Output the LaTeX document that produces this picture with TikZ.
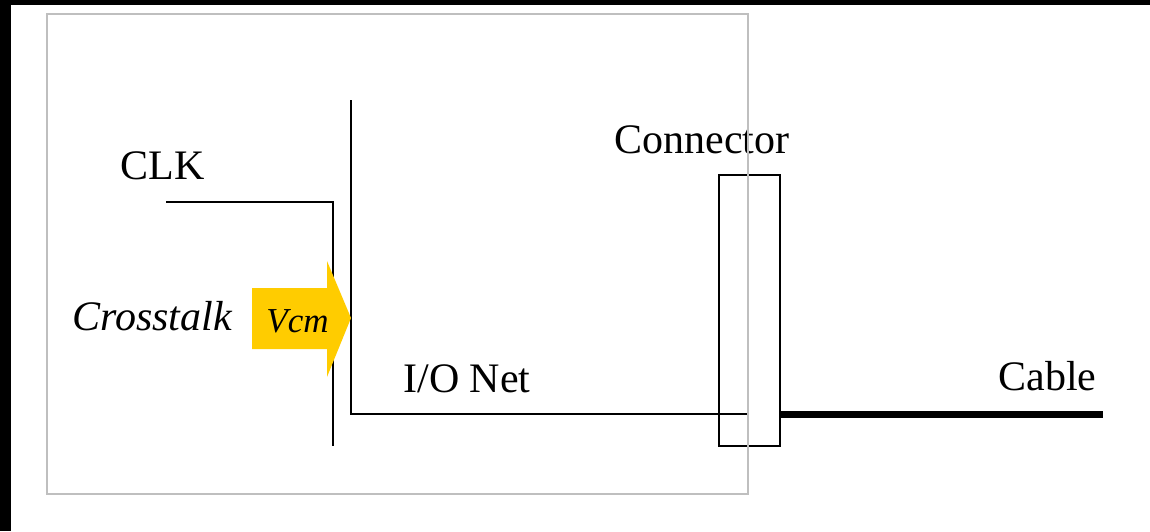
\documentclass[tikz,border=0pt]{standalone}
\usepackage{fontspec}
\setmainfont{Liberation Serif}
\usetikzlibrary{positioning,calc}
\definecolor{frameGray}{HTML}{BFBFBF}
\definecolor{xtalkYellow}{HTML}{FFCC00}

\begin{document}
\begin{tikzpicture}[
    x=0.5pt, y=-0.5pt,
    lbl/.style={anchor=base west, inner sep=0pt, font=\fontsize{21}{24}\selectfont},
    wire/.style={line width=1pt},
    cable/.style={line width=3.5pt},
    conn/.style={draw, line width=0.8pt, minimum width=30.5pt, minimum height=135.5pt, inner sep=0pt}
]
\useasboundingbox (0,0) rectangle (1150,531);
% page edges
\fill[black] (0,0) rectangle (11,531);
\fill[black] (0,0) rectangle (1150,5);

% wires
\coordinate (clkstart) at (166,202);
\coordinate (clkcorner) at (333,202);
\coordinate (clkend) at (333,446);
\coordinate (iotop) at (351,100);
\coordinate (iocorner) at (351,414);
\coordinate (ioend) at (748,414);
\coordinate (cableend) at (1103,414);
\draw[wire] (clkstart) -- (clkcorner) -- (clkend);
\draw[wire] (iotop) -- (iocorner) -- (ioend);

% crosstalk arrow
\fill[xtalkYellow] (252,288) -- (327,288) -- (327,261) -- (351,318)
    -- (327,377) -- (327,349) -- (252,349) -- cycle;
\node[anchor=base west, inner sep=0pt, font=\fontsize{17.5}{20}\selectfont\itshape] (vcm) at (266,332) {Vcm};

% connector and cable
\node[conn] (connector) at (749.5,310.5) {};
\draw[cable] (connector.east |- ioend) -- (cableend);

% labels
\node[lbl] (clk) at (120,179) {CLK};
\node[lbl] (connlbl) at (614,153) {Connector};
\node[lbl, font=\fontsize{21}{24}\selectfont\itshape] (xtalk) at (72,330) {Crosstalk};
\node[lbl] (ionet) at (403,392) {I/O Net};
\node[lbl] (cablelbl) at (998,390) {Cable};

% board outline on top
\draw[frameGray, line width=0.8pt] (47,14) rectangle (748,494);
\end{tikzpicture}
\end{document}
